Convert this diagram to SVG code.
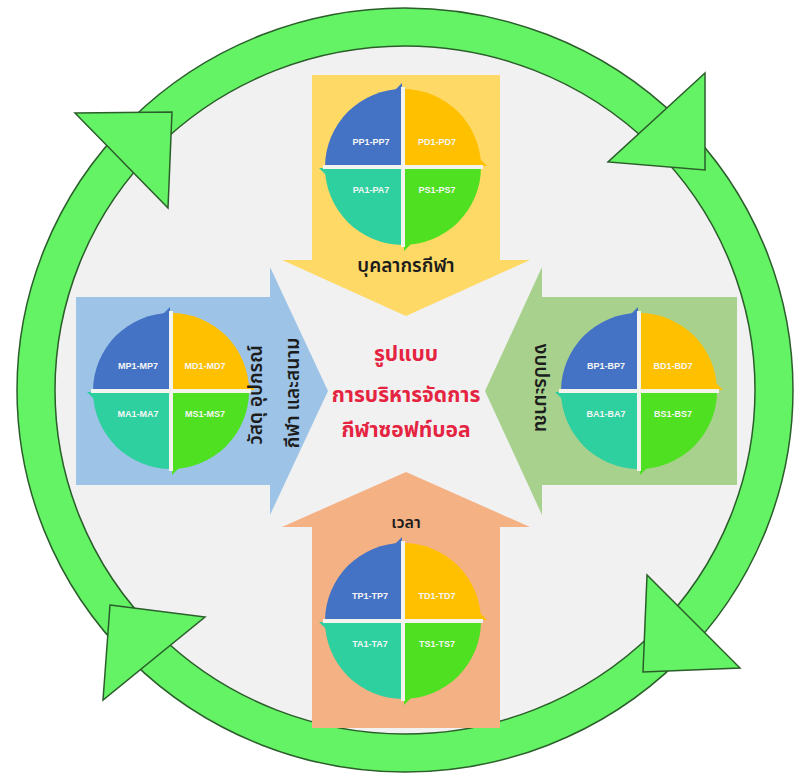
<svg xmlns="http://www.w3.org/2000/svg" width="797" height="773" viewBox="0 0 797 773">
<style>
  .tri{fill:#64f364;stroke:#2b5e2b;stroke-width:1.5;stroke-linejoin:miter}
  .q1{fill:#4472c4}.q2{fill:#ffc000}.q3{fill:#2fd0a0}.q4{fill:#4fe022}
  .sep{stroke:#f4f4ee;stroke-width:4}
  .ql{font-family:"Liberation Sans",Arial,sans-serif;font-size:9px;font-weight:bold;fill:#f6f6f6;text-anchor:middle}
  .th{font-family:"Noto Sans Thai","Noto Sans","DejaVu Sans",sans-serif;text-anchor:middle}
  .lbl{font-size:19px;font-weight:600;fill:#1c1c1c}
  .ctr{font-size:21px;font-weight:bold;fill:#e52442}
</style>
<defs>
  <g id="pie">
    <path class="q1" d="M0,0 L-78,0 A78,78 0 0 1 0,-78 Z"/>
    <path class="q1" d="M-8,-77 L-1,-84 L-1,-74 Z"/>
    <path class="q2" d="M0,0 L0,-78 A78,78 0 0 1 78,0 Z"/>
    <path class="q2" d="M77,-8 L84,-1 L74,-1 Z"/>
    <path class="q4" d="M0,0 L78,0 A78,78 0 0 1 0,78 Z"/>
    <path class="q4" d="M8,77 L1,84 L1,74 Z"/>
    <path class="q3" d="M0,0 L0,78 A78,78 0 0 1 -78,0 Z"/>
    <path class="q3" d="M-77,8 L-84,1 L-74,1 Z"/>
    <line class="sep" x1="0" y1="-80" x2="0" y2="80"/>
    <line class="sep" x1="-80" y1="0" x2="80" y2="0"/>
  </g>
</defs>
<rect x="0" y="0" width="797" height="773" fill="#ffffff"/>
<g id="cycle">
  <ellipse cx="405" cy="390" rx="388" ry="382" fill="#64f364" stroke="#2b5e2b" stroke-width="1.5"/>
  <ellipse cx="405" cy="390" rx="350" ry="344" fill="#f1f1f1" stroke="#2b5e2b" stroke-width="1.5"/>
  <polygon class="tri" points="75,113 172,112 168,208"/>
  <polygon class="tri" points="705,73 608,162 705,170"/>
  <polygon class="tri" points="647,575 643,672 740,668"/>
  <polygon class="tri" points="110,605 205,617 103,700"/>
</g>
<g id="personnel">
  <polygon points="312,75 500,75 500,260 530,260 406,316 282,260 312,260" fill="#ffd966"/>
  <use href="#pie" x="403" y="167"/>
  <text class="ql" x="371" y="145">PP1-PP7</text>
  <text class="ql" x="437" y="145">PD1-PD7</text>
  <text class="ql" x="371" y="193">PA1-PA7</text>
  <text class="ql" x="437" y="193">PS1-PS7</text>
  <text class="th lbl" x="406" y="272">บุคลากรกีฬา</text>
</g>
<g id="materials">
  <polygon points="76,297 270,297 270,267 328,391 270,515 270,485 76,485" fill="#9dc3e6"/>
  <use href="#pie" x="171" y="391"/>
  <text class="ql" x="138" y="369">MP1-MP7</text>
  <text class="ql" x="205" y="369">MD1-MD7</text>
  <text class="ql" x="138" y="417">MA1-MA7</text>
  <text class="ql" x="205" y="417">MS1-MS7</text>
  <text class="th lbl" transform="translate(262,395) rotate(-90)">วัสดุ อุปกรณ์</text>
  <text class="th lbl" transform="translate(299,393) rotate(-90)">กีฬา และสนาม</text>
</g>
<g id="budget">
  <polygon points="737,297 542,297 542,267 485,391 542,515 542,485 737,485" fill="#a9d18e"/>
  <use href="#pie" x="639" y="391"/>
  <text class="ql" x="606" y="369">BP1-BP7</text>
  <text class="ql" x="673" y="369">BD1-BD7</text>
  <text class="ql" x="606" y="417">BA1-BA7</text>
  <text class="ql" x="673" y="417">BS1-BS7</text>
  <text class="th lbl" transform="translate(535,388) rotate(90)">งบประมาณ</text>
</g>
<g id="time">
  <polygon points="312,728 500,728 500,527 530,527 406,472 282,527 312,527" fill="#f4b183"/>
  <use href="#pie" x="403" y="621"/>
  <text class="ql" x="370" y="599">TP1-TP7</text>
  <text class="ql" x="437" y="599">TD1-TD7</text>
  <text class="ql" x="370" y="647">TA1-TA7</text>
  <text class="ql" x="437" y="647">TS1-TS7</text>
  <text class="th lbl" x="406" y="528" style="font-size:16px">เวลา</text>
</g>
<g id="center">
  <text class="th ctr" x="406" y="361">รูปแบบ</text>
  <text class="th ctr" x="406" y="402">การบริหารจัดการ</text>
  <text class="th ctr" x="406" y="437">กีฬาซอฟท์บอล</text>
</g>
</svg>
